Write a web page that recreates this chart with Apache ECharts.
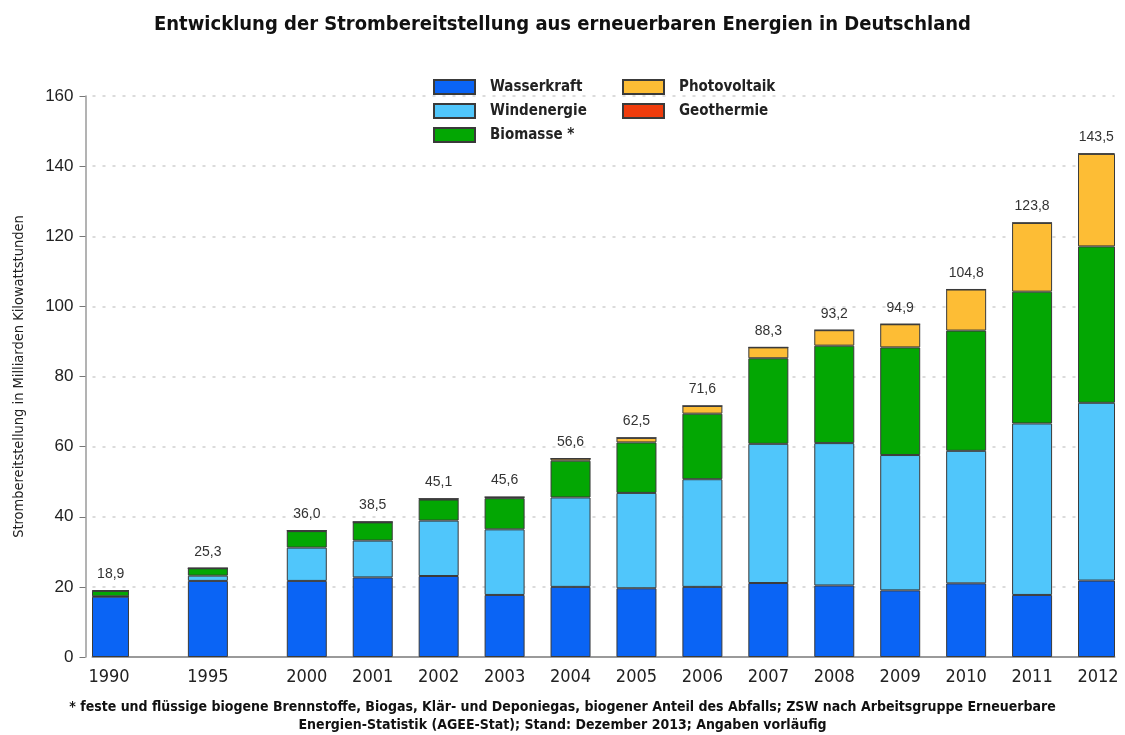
<!DOCTYPE html>
<html><head><meta charset="utf-8">
<script src="https://cdn.jsdelivr.net/npm/echarts@6/dist/echarts.min.js"></script>
<style>html,body{margin:0;padding:0;background:#fff}#c{width:1125px;height:735px}</style>
</head><body><div id="c"></div>
<script>
const years = ['1990','1995','2000','2001','2002','2003','2004','2005','2006','2007','2008','2009','2010','2011','2012'];
const wasserkraft  = [17.2,21.7,21.7,22.7,23.1,17.7,20.0,19.6,20.0,21.1,20.4,19.0,21.0,17.7,21.8];
const windenergie  = [0.1,1.5,9.5,10.5,15.8,18.7,25.5,27.2,30.7,39.7,40.6,38.6,37.8,48.9,50.7];
const biomasse     = [1.6,2.1,4.7,5.2,6.0,8.9,10.5,14.4,18.7,24.4,27.8,30.7,34.3,37.6,44.6];
const photovoltaik = [0,0,0.1,0.1,0.2,0.3,0.6,1.3,2.2,3.1,4.4,6.6,11.7,19.6,26.4];
const geothermie   = [0,0,0,0,0,0,0,0,0,0,0.02,0.02,0.03,0.02,0.03];
const totals       = [18.9,25.3,36.0,38.5,45.1,45.6,56.6,62.5,71.6,88.3,93.2,94.9,104.8,123.8,143.5];
const yTicks = [0,20,40,60,80,100,120,140,160];

const seriesNames = ['Wasserkraft','Windenergie','Biomasse *','Photovoltaik','Geothermie'];
const colors = ['#0a64f5','#50c6fb','#03a703','#fdbd35','#f03c0c'];

// half-slot layout: a 5-year gap takes 1.5 slots, a 1-year gap 1 slot
const cats = [], pos = [];
years.forEach((y, i) => {
  if (i > 0) {
    const gap = (+y - +years[i-1]) > 1 ? 3 : 2;
    for (let k = 1; k < gap; k++) cats.push('');
  }
  pos.push(cats.length);
  cats.push(y);
});
const spread = arr => { const out = cats.map(() => null); pos.forEach((p, i) => out[p] = arr[i]); return out; };
const fmt = v => v.toFixed(1).replace('.', ',');

const narrow = '"Liberation Sans Narrow","DejaVu Sans Condensed",sans-serif';
const arial = '"Liberation Sans",Arial,sans-serif';

const dataSets = [wasserkraft, windenergie, biomasse, photovoltaik, geothermie];
const series = dataSets.map((d, i) => ({
  name: seriesNames[i],
  type: 'bar',
  stack: 'total',
  barWidth: 40,
  data: spread(d),
  itemStyle: { color: colors[i], borderColor: '#3a3a3a', borderWidth: 1 },
  emphasis: { disabled: true },
  label: i === 4 ? {
    show: true, position: 'top', distance: 9,
    fontFamily: arial, fontSize: 14, color: '#333',
    formatter: p => { const k = pos.indexOf(p.dataIndex); return k >= 0 ? fmt(totals[k]) : ''; }
  } : { show: false }
}));

const legendText = { fontFamily: narrow, fontWeight: 'bold', fontSize: 15, color: '#222', padding: [0,0,0,10] };

const chart = echarts.init(document.getElementById('c'), null, { renderer: 'canvas' });
chart.setOption({
  backgroundColor: '#fff',
  animation: false,
  title: {
    text: 'Entwicklung der Strombereitstellung aus erneuerbaren Energien in Deutschland',
    left: 'center', top: 10,
    textStyle: { fontFamily: narrow, fontWeight: 'bold', fontSize: 20, color: '#111' }
  },
  legend: [
    { data: seriesNames.slice(0, 3), orient: 'vertical', left: 433, top: 79, padding: 0, itemWidth: 41, itemHeight: 14, itemGap: 8,
      icon: 'rect', selectedMode: false, textStyle: legendText },
    { data: seriesNames.slice(3), orient: 'vertical', left: 622, top: 79, padding: 0, itemWidth: 41, itemHeight: 14, itemGap: 8,
      icon: 'rect', selectedMode: false, textStyle: legendText }
  ],
  grid: { left: 92.5, right: 10.5, top: 96, bottom: 78, containLabel: false, outerBoundsMode: 'none' },
  xAxis: {
    type: 'category', data: cats, boundaryGap: true,
    axisLine: { lineStyle: { color: '#9a9a9a', width: 2 } },
    axisTick: { show: false },
    axisLabel: { interval: 0, margin: 11, fontFamily: narrow, fontSize: 18, color: '#222' },
    splitLine: { show: false }
  },
  yAxis: {
    type: 'value', min: yTicks[0], max: yTicks[yTicks.length-1], interval: yTicks[1]-yTicks[0],
    offset: 7,
    name: 'Strombereitstellung in Milliarden Kilowattstunden',
    nameLocation: 'middle', nameRotate: 90, nameGap: 59,
    nameTextStyle: { fontFamily: narrow, fontSize: 14.5, color: '#222' },
    axisLine: { show: true, lineStyle: { color: '#9a9a9a', width: 1.5 } },
    axisTick: { show: true, inside: false, length: 6, lineStyle: { color: '#777' } },
    axisLabel: { margin: 12, fontFamily: arial, fontSize: 17, color: '#222' },
    splitLine: { show: true, lineStyle: { color: '#cfcfcf', type: [3, 7], width: 1.5 } }
  },
  graphic: [
    { type: 'text', left: 'center', top: 698,
      style: { text: '* feste und flüssige biogene Brennstoffe, Biogas, Klär- und Deponiegas, biogener Anteil des Abfalls; ZSW nach Arbeitsgruppe Erneuerbare\nEnergien-Statistik (AGEE-Stat); Stand: Dezember 2013; Angaben vorläufig',
        textAlign: 'center', fontFamily: narrow, fontWeight: 'bold', fontSize: 14, lineHeight: 18, fill: '#111' } }
  ],
  series: series
});
</script>
</body></html>
